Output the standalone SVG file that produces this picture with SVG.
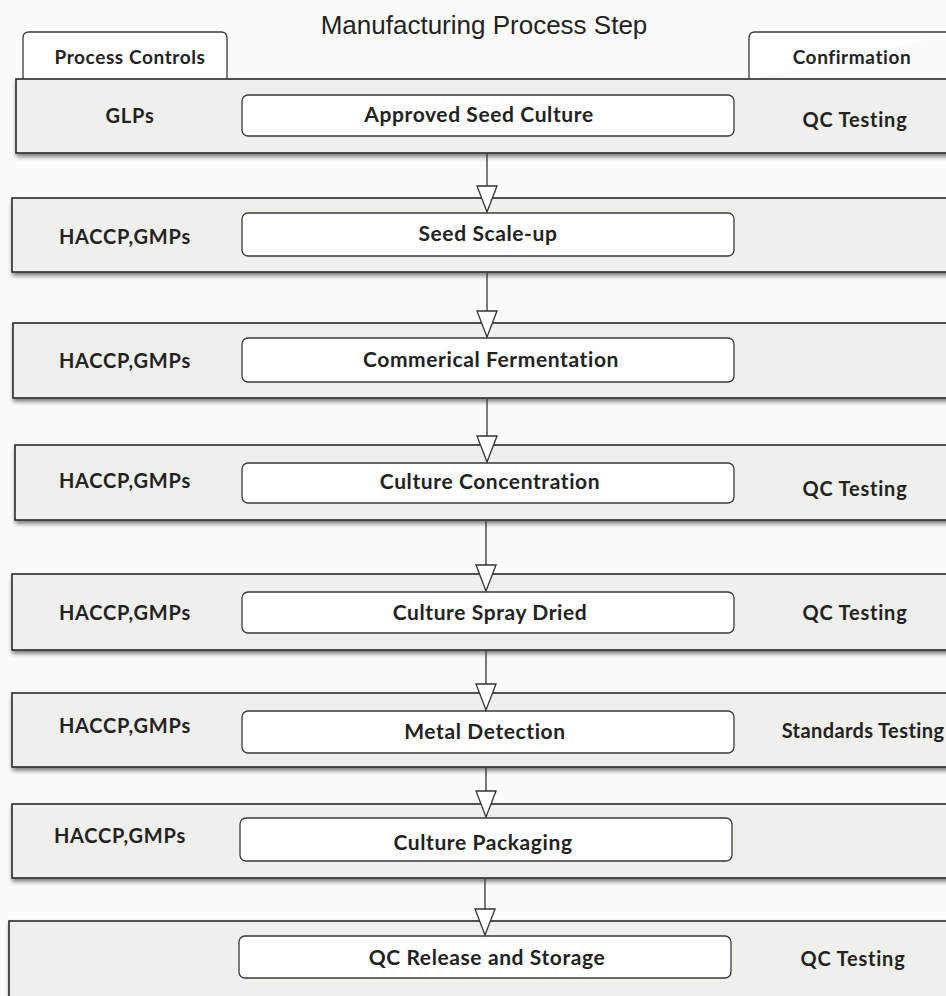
<svg xmlns="http://www.w3.org/2000/svg" width="946" height="996" viewBox="0 0 946 996">
<defs>
<filter id="sh" x="-5%" y="-20%" width="110%" height="160%">
<feDropShadow dx="1" dy="3" stdDeviation="2" flood-color="#000" flood-opacity="0.5"/>
</filter>
<marker id="ah" markerUnits="userSpaceOnUse" markerWidth="30" markerHeight="24" refX="26" refY="10" orient="auto" overflow="visible">
<path d="M0,0 L26,10 L0,20 Z" fill="#fff" stroke="#333" stroke-width="1.3" stroke-linejoin="miter"/>
</marker>
<style>
.band{fill:#efefec;stroke:#2a2a2a;stroke-width:1.6;filter:url(#sh)}
.box{fill:#fff;stroke:#3a3a3a;stroke-width:1.3}
.tab{fill:#fff;stroke:#3a3a3a;stroke-width:1.3}
.t{font-family:Lato,"Open Sans","DejaVu Sans",sans-serif;font-weight:bold;fill:#222;text-anchor:middle}
.s{font-size:21px;letter-spacing:0.6px}
.l{font-size:20px;letter-spacing:0.8px}
.h{font-size:19px;letter-spacing:0.6px}
.title{font-family:"Liberation Sans",Arial,sans-serif;font-size:26px;fill:#222;text-anchor:middle}
.c{stroke:#333;stroke-width:1.3;fill:none;marker-end:url(#ah)}
</style>
</defs>
<rect width="946" height="996" fill="#fbfbfa"/>
<text class="title" x="484" y="34">Manufacturing Process Step</text>
<g id="tab-process-controls">
<path class="tab" d="M23,80 V38 Q23,32 29,32 H221 Q227,32 227,38 V80"/>
<text class="t h" x="130" y="64">Process Controls</text>
</g>
<g id="tab-confirmation">
<path class="tab" d="M749,80 V38 Q749,32 755,32 H960"/>
<text class="t h" x="852" y="64">Confirmation</text>
</g>
<g id="step1">
<rect class="band" x="16" y="79" width="960" height="74"/>
<rect class="box" x="242" y="95" width="492" height="41" rx="6"/>
<text class="t s" x="479" y="122">Approved Seed Culture</text>
<text class="t l" x="130" y="123">GLPs</text>
<text class="t l" x="855" y="127">QC Testing</text>
</g>
<g id="step2">
<rect class="band" x="12" y="198" width="960" height="74"/>
<rect class="box" x="242" y="213" width="492" height="43" rx="6"/>
<text class="t s" x="488" y="241">Seed Scale-up</text>
<text class="t l" x="125" y="244">HACCP,GMPs</text>
</g>
<g id="step3">
<rect class="band" x="13" y="323" width="960" height="75"/>
<rect class="box" x="242" y="338" width="492" height="44" rx="6"/>
<text class="t s" x="491" y="367">Commerical Fermentation</text>
<text class="t l" x="125" y="368">HACCP,GMPs</text>
</g>
<g id="step4">
<rect class="band" x="15" y="445" width="960" height="75"/>
<rect class="box" x="242" y="463" width="492" height="40" rx="6"/>
<text class="t s" x="490" y="489">Culture Concentration</text>
<text class="t l" x="125" y="488">HACCP,GMPs</text>
<text class="t l" x="855" y="496">QC Testing</text>
</g>
<g id="step5">
<rect class="band" x="12" y="574" width="960" height="76"/>
<rect class="box" x="242" y="592" width="492" height="41" rx="6"/>
<text class="t s" x="490" y="620">Culture Spray Dried</text>
<text class="t l" x="125" y="620">HACCP,GMPs</text>
<text class="t l" x="855" y="620">QC Testing</text>
</g>
<g id="step6">
<rect class="band" x="12" y="693" width="960" height="74"/>
<rect class="box" x="242" y="711" width="492" height="42" rx="6"/>
<text class="t s" x="485" y="739">Metal Detection</text>
<text class="t l" x="125" y="733">HACCP,GMPs</text>
<text class="t l" x="863" y="738" style="letter-spacing:0.4px">Standards Testing</text>
</g>
<g id="step7">
<rect class="band" x="12" y="804" width="960" height="74"/>
<rect class="box" x="240" y="818" width="492" height="43" rx="6"/>
<text class="t s" x="483" y="850">Culture Packaging</text>
<text class="t l" x="120" y="843">HACCP,GMPs</text>
</g>
<g id="step8">
<rect class="band" x="9" y="921" width="960" height="90"/>
<rect class="box" x="239" y="936" width="492" height="42" rx="6"/>
<text class="t s" x="487" y="965">QC Release and Storage</text>
<text class="t l" x="853" y="966">QC Testing</text>
</g>
<g id="connectors">
<line class="c" x1="487" y1="154" x2="487" y2="212"/>
<line class="c" x1="487" y1="273" x2="487" y2="337"/>
<line class="c" x1="487" y1="399" x2="487" y2="462"/>
<line class="c" x1="486" y1="521" x2="486" y2="591"/>
<line class="c" x1="486" y1="651" x2="486" y2="710"/>
<line class="c" x1="486" y1="768" x2="486" y2="817"/>
<line class="c" x1="485" y1="879" x2="485" y2="935"/>
</g>
</svg>
